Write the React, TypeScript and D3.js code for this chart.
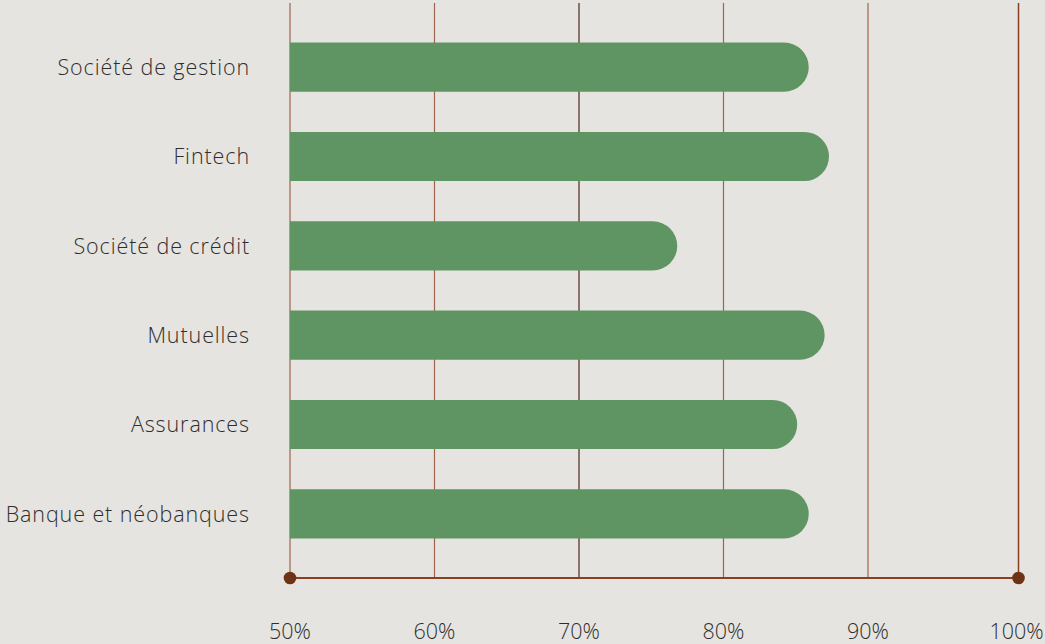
import React from "react";
import * as d3 from "d3";

const categories = [
  "Société de gestion",
  "Fintech",
  "Société de crédit",
  "Mutuelles",
  "Assurances",
  "Banque et néobanques",
];
const values = [85.9, 87.3, 76.8, 87.0, 85.1, 85.9];
const tickValues = [50, 60, 70, 80, 90];
const tickLabels = ["50%", "60%", "70%", "80%", "90%"];
const endLabel = "100%";

const W = 1045;
const H = 644;
const left = 290;
const plotRight = 1018.5;
const axisY = 578;
const gridTop = 3;

export default function App() {
  const x = d3.scaleLinear().domain([50, 100]).range([left, 1012.5]);
  const y = d3
    .scaleBand<string>()
    .domain(categories)
    .range([22.5, 558.5])
    .paddingInner(0.45)
    .paddingOuter(0.225);
  const bh = y.bandwidth();
  const r = bh / 2;
  const font = "'Open Sans', Lato, sans-serif";

  const barPath = (v: number, y0: number) => {
    const x0 = x(50);
    const x1 = x(v);
    const p = d3.path();
    p.moveTo(x0, y0);
    p.lineTo(x1 - r, y0);
    p.arc(x1 - r, y0 + r, r, -Math.PI / 2, Math.PI / 2, false);
    p.lineTo(x0, y0 + bh);
    p.closePath();
    return p.toString();
  };

  return (
    <div style={{ position: "fixed", left: 0, top: 0, width: W, height: H }}>
      <svg width={W} height={H} style={{ display: "block", background: "#e6e4e0" }}>
        {tickValues.map((t) => (
          <line
            key={"g" + t}
            x1={x(t)}
            x2={x(t)}
            y1={gridTop}
            y2={axisY}
            stroke={t === 70 ? "#4e2a1a" : "#a0634b"}
            strokeWidth={1.2}
          />
        ))}
        <line x1={plotRight} x2={plotRight} y1={gridTop} y2={axisY} stroke="#8a3f20" strokeWidth={1.5} />
        {categories.map((c, i) => (
          <path key={c} d={barPath(values[i], y(c)!)} fill="#5f9563" />
        ))}
        <line x1={x(50)} x2={plotRight} y1={axisY} y2={axisY} stroke="#8a3f20" strokeWidth={2.2} />
        <circle cx={x(50)} cy={axisY} r={6.3} fill="#6e3316" />
        <circle cx={plotRight} cy={axisY} r={6.3} fill="#6e3316" />
        {categories.map((c) => (
          <text
            key={"l" + c}
            x={250}
            y={y(c)! + bh / 2}
            dy="0.36em"
            textAnchor="end"
            fontFamily={font}
            fontWeight={300}
            fontSize={21.5}
            letterSpacing={0.9}
            fill="#2e2e2e"
          >
            {c}
          </text>
        ))}
        {tickValues.map((t, i) => (
          <text
            key={"t" + t}
            x={x(t)}
            y={638.5}
            textAnchor="middle"
            fontFamily={font}
            fontWeight={300}
            fontSize={21.5}
            fill="#2e2e2e"
          >
            {tickLabels[i]}
          </text>
        ))}
        <text
          x={plotRight - 2}
          y={638.5}
          textAnchor="middle"
          fontFamily={font}
          fontWeight={300}
          fontSize={21.5}
          fill="#2e2e2e"
        >
          {endLabel}
        </text>
      </svg>
    </div>
  );
}
